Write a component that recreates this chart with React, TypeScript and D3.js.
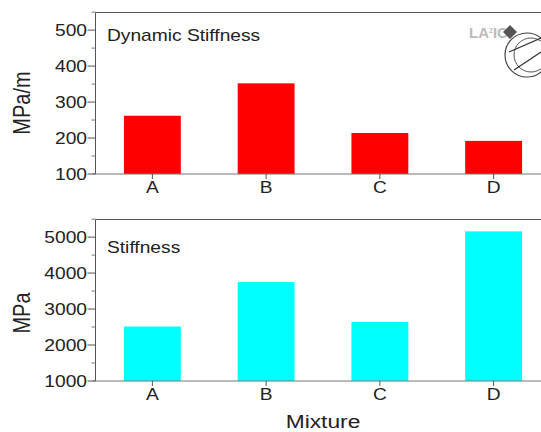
import React from 'react';
import * as d3 from 'd3';

const mixtures = ['A', 'B', 'C', 'D'];
const dynamicStiffness = [262, 352, 214, 192];
const stiffness = [2514, 3750, 2640, 5160];
const dynamicTicks = [100, 200, 300, 400, 500];
const dynamicMinor = [150, 250, 350, 450, 550];
const stiffnessTicks = [1000, 2000, 3000, 4000, 5000];
const stiffnessMinor = [1500, 2500, 3500, 4500, 5500];

const width = 541;
const height = 432;
const font = 'Arial, "Liberation Sans", sans-serif';
const ink = '#222';
const stretch = 1.2; // the original picture is widened, text included

const x = d3.scaleBand<string>()
  .domain(mixtures)
  .range([95.5, 550.5])
  .paddingInner(0.5)
  .paddingOuter(0.25);

const Label: React.FC<{ x: number; y: number; size: number; anchor?: string; rotate?: boolean; children: React.ReactNode }> = ({ x, y, size, anchor = 'start', rotate, children }) => (
  <text
    transform={`translate(${x},${y}) scale(${stretch},1)${rotate ? ' rotate(-90)' : ''}`}
    textAnchor={anchor}
    fontSize={size}
    fontFamily={font}
    fill={ink}
  >
    {children}
  </text>
);

interface PanelProps {
  values: number[];
  ticks: number[];
  minor: number[];
  domain: [number, number];
  top: number;
  bottom: number;
  color: string;
  title: string;
  titleY: number;
  yLabel: string;
  yLabelX: number;
  yLabelY: number;
}

const Panel: React.FC<PanelProps> = ({ values, ticks, minor, domain, top, bottom, color, title, titleY, yLabel, yLabelX, yLabelY }) => {
  const y = d3.scaleLinear().domain(domain).range([bottom, top]);
  const left = x.range()[0];

  return (
    <g>
      {values.map((v, i) => (
        <rect
          key={mixtures[i]}
          x={x(mixtures[i])}
          y={y(v)}
          width={x.bandwidth()}
          height={bottom - y(v)}
          fill={color}
        />
      ))}
      <line x1={left} x2={width} y1={top} y2={top} stroke="#555" strokeWidth={1} />
      <line x1={left} x2={left} y1={top} y2={bottom} stroke="#555" strokeWidth={1} />
      <line x1={left - 3} x2={width} y1={bottom} y2={bottom} stroke="#777" strokeWidth={1.2} />
      {ticks.map(t => (
        <g key={t}>
          <line x1={left - 8} x2={left} y1={y(t)} y2={y(t)} stroke="#555" />
          <Label x={left - 8.5} y={y(t) + 6} size={16} anchor="end">{t}</Label>
        </g>
      ))}
      {minor.map(t => (
        <line key={t} x1={left - 4} x2={left} y1={y(t)} y2={y(t)} stroke="#777" />
      ))}
      {mixtures.map(m => {
        const cx = (x(m) as number) + x.bandwidth() / 2;
        return (
          <g key={m}>
            <line x1={cx} x2={cx} y1={bottom} y2={bottom + 5} stroke="#555" />
            <Label x={cx} y={bottom + 19} size={16} anchor="middle">{m}</Label>
          </g>
        );
      })}
      <Label x={107} y={titleY} size={16}>{title}</Label>
      <Label x={yLabelX} y={yLabelY} size={20} anchor="middle" rotate>{yLabel}</Label>
    </g>
  );
};

export default function App() {
  return (
    <svg
      width={width}
      height={height}
      viewBox={`0 0 ${width} ${height}`}
      style={{ position: 'absolute', left: 0, top: 0, background: '#fff' }}
    >
      <Panel
        values={dynamicStiffness}
        ticks={dynamicTicks}
        minor={dynamicMinor}
        domain={[100, 549]}
        top={12.5}
        bottom={174}
        color="#ff0000"
        title="Dynamic Stiffness"
        titleY={41}
        yLabel="MPa/m"
        yLabelX={30}
        yLabelY={103}
      />
      <Panel
        values={stiffness}
        ticks={stiffnessTicks}
        minor={stiffnessMinor}
        domain={[1000, 5490]}
        top={219.5}
        bottom={381}
        color="#00ffff"
        title="Stiffness"
        titleY={253}
        yLabel="MPa"
        yLabelX={30}
        yLabelY={313}
      />
      <Label x={323} y={428} size={19} anchor="middle">Mixture</Label>

      {/* logo in the top right corner */}
      <text x={469} y={38} fontSize={15} fontWeight="bold" fontFamily={font} fill="#bbb">
        LA<tspan fontSize={7} dy={-5}>2</tspan><tspan dy={5}>IC</tspan>
      </text>
      <path d="M510 25 L517 32 L510 39 L503 32 Z" fill="#555" />
      <circle cx={527} cy={55} r={22} fill="#fff" stroke="#444" strokeWidth={1.2} />
      <circle cx={531} cy={55} r={17} fill="none" stroke="#555" strokeWidth={1} />
      <line x1={509} x2={541} y1={52} y2={38} stroke="#333" strokeWidth={1.2} />
      <line x1={514} x2={541} y1={70} y2={52} stroke="#333" strokeWidth={1.2} />
    </svg>
  );
}
